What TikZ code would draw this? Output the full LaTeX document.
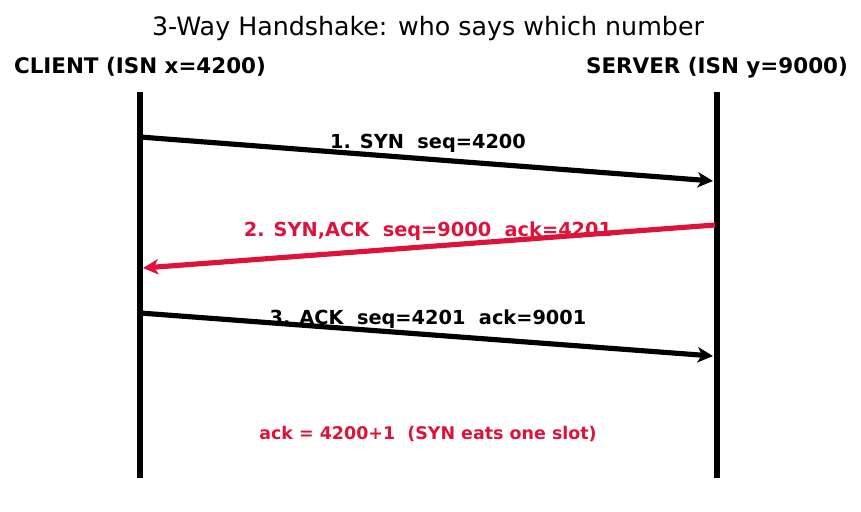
\documentclass[tikz,border=0pt]{standalone}
\usepackage{fontspec}
\setmainfont{DejaVu Sans}
\usetikzlibrary{arrows.meta}
\definecolor{msgred}{HTML}{DC143C}

\begin{document}
\begin{tikzpicture}[x=0.03cm, y=-0.03cm, every node/.style={anchor=base, inner sep=0pt}, life/.style={line width=4.4pt}, msg/.style={line width=4.4pt, -{Stealth[length=13pt, width=13pt, inset=3.5pt]}}, lbl/.style={font=\bfseries\fontsize{16.5}{19}\selectfont}, head/.style={font=\bfseries\fontsize{18.3}{21}\selectfont}]
	\useasboundingbox (0,0) rectangle (861,512);
	\node (title) at (428,36) {\fontsize{21.6}{25}\selectfont 3-Way Handshake: who says which number};
	\node[head] (client) at (140,74) {CLIENT (ISN x=4200)};
	\node[head] (server) at (717,74) {SERVER (ISN y=9000)};
	\coordinate (cT) at (140,92);
	\coordinate (cB) at (140,478);
	\coordinate (sT) at (717,92);
	\coordinate (sB) at (717,478);
	\draw[life] (cT) -- (cB);
	\draw[life] (sT) -- (sB);
	\node[lbl] (m1) at (428,149) {1. SYN\ \ seq=4200};
	\node[lbl, text=msgred] (m2) at (428,237) {2. SYN,ACK\ \ seq=9000\ \ ack=4201};
	\node[lbl] (m3) at (428,325) {3. ACK\ \ seq=4201\ \ ack=9001};
	\coordinate (c1) at (140,137);
	\coordinate (s1) at (713,181);
	\coordinate (s2) at (715,225);
	\coordinate (c2) at (143,268);
	\coordinate (c3) at (140,313);
	\coordinate (s3) at (713,356);
	\draw[msg] (c1) -- (s1);
	\draw[msg, msgred] (s2) -- (c2);
	\draw[msg] (c3) -- (s3);
	\node[text=msgred, font=\bfseries\fontsize{14.9}{17}\selectfont] (note) at (428,439) {ack = 4200+1\ \ (SYN eats one slot)};
\end{tikzpicture}
\end{document}
